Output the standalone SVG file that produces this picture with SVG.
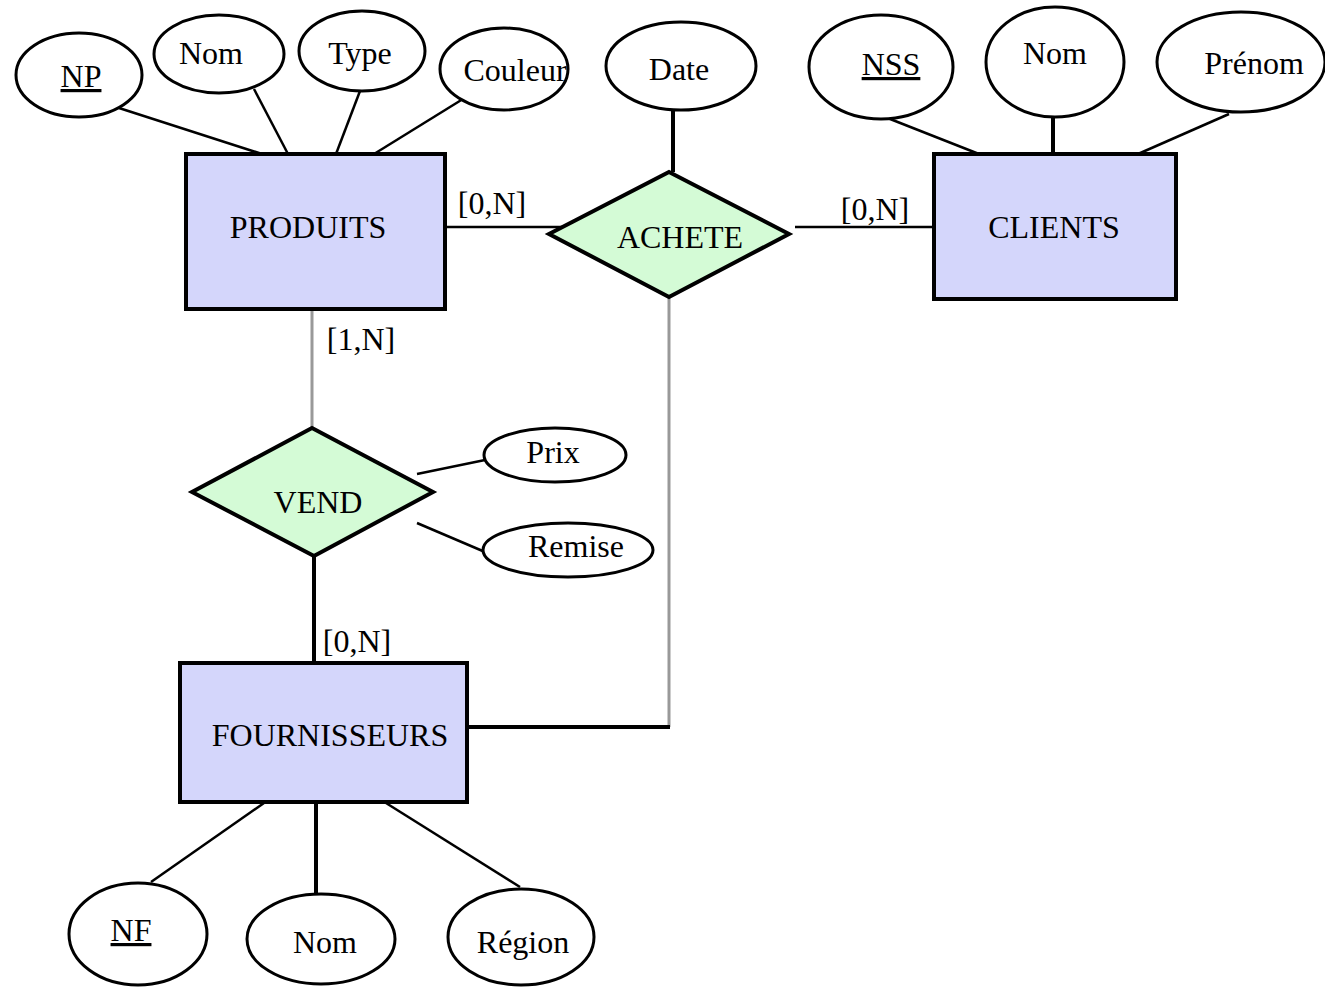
<svg xmlns="http://www.w3.org/2000/svg" width="1325" height="987" viewBox="0 0 1325 987">
  <style>
    text { font-family: "Liberation Serif", "Times New Roman", serif; font-size: 32px; fill: #000; text-anchor: middle; }
    .entity { fill: #d4d6fb; stroke: #000; stroke-width: 4; }
    .assoc { fill: #d4fbd6; stroke: #000; stroke-width: 4; stroke-linejoin: miter; }
    .attr { fill: #fff; stroke: #000; stroke-width: 3; }
    .thin { stroke: #000; stroke-width: 2.5; fill: none; }
    .thick { stroke: #000; stroke-width: 4; fill: none; }
    .grey { stroke: #999; stroke-width: 3; fill: none; }
    .key { text-decoration: underline; }
  </style>

  <!-- connectors -->
  <g id="connectors">
    <!-- PRODUITS attributes -->
    <line class="thin" x1="119" y1="108" x2="262" y2="154"/>
    <line class="thin" x1="254" y1="89" x2="288" y2="154"/>
    <line class="thin" x1="360" y1="91" x2="336" y2="154"/>
    <line class="thin" x1="471" y1="94" x2="374" y2="154"/>
    <!-- CLIENTS attributes -->
    <line class="thin" x1="885" y1="117" x2="979" y2="154"/>
    <line class="thick" x1="1053" y1="112" x2="1053" y2="154"/>
    <line class="thin" x1="1229" y1="114" x2="1138" y2="154"/>
    <!-- ACHETE -->
    <line class="thick" x1="673" y1="110" x2="673" y2="172"/>
    <line class="thin" x1="445" y1="227" x2="570" y2="227"/>
    <line class="thin" x1="795" y1="227" x2="933" y2="227"/>
    <polyline class="grey" points="669,297 669,727"/>
    <line class="thick" x1="467" y1="727" x2="670" y2="727"/>
    <!-- VEND -->
    <line class="grey" x1="312" y1="309" x2="312" y2="428"/>
    <line class="thick" x1="314" y1="556" x2="314" y2="663"/>
    <line class="thin" x1="417" y1="474" x2="485" y2="460"/>
    <line class="thin" x1="417" y1="523" x2="485" y2="552"/>
    <!-- FOURNISSEURS attributes -->
    <line class="thin" x1="264" y1="803" x2="151" y2="882"/>
    <line class="thick" x1="316" y1="803" x2="316" y2="897"/>
    <line class="thin" x1="386" y1="803" x2="520" y2="887"/>
    <!-- cardinalities -->
    <text x="492" y="214">[0,N]</text>
    <text x="875" y="220">[0,N]</text>
    <text x="361" y="350">[1,N]</text>
    <text x="357" y="652">[0,N]</text>
  </g>

  <!-- entities -->
  <g id="produits">
    <rect class="entity" x="186" y="154" width="259" height="155"/>
    <text x="308" y="238">PRODUITS</text>
  </g>
  <g id="clients">
    <rect class="entity" x="934" y="154" width="242" height="145"/>
    <text x="1054" y="238">CLIENTS</text>
  </g>
  <g id="fournisseurs">
    <rect class="entity" x="180" y="663" width="287" height="139"/>
    <text x="330" y="746">FOURNISSEURS</text>
  </g>

  <!-- associations -->
  <g id="achete">
    <polygon class="assoc" points="669,172 789,234 669,297 549,234"/>
    <text x="680" y="248">ACHETE</text>
  </g>
  <g id="vend">
    <polygon class="assoc" points="312,428 433,492 314,556 192,492"/>
    <text x="318" y="513">VEND</text>
  </g>

  <!-- attributes of PRODUITS -->
  <g id="attr-np">
    <ellipse class="attr" cx="79" cy="75" rx="63" ry="42"/>
    <text class="key" x="81" y="87">NP</text>
  </g>
  <g id="attr-nom-produit">
    <ellipse class="attr" cx="219" cy="54" rx="65" ry="39"/>
    <text x="211" y="64">Nom</text>
  </g>
  <g id="attr-type">
    <ellipse class="attr" cx="362" cy="51" rx="63" ry="40"/>
    <text x="360" y="64">Type</text>
  </g>
  <g id="attr-couleur">
    <ellipse class="attr" cx="504" cy="69" rx="64" ry="41"/>
    <text x="515" y="81">Couleur</text>
  </g>

  <!-- attribute of ACHETE -->
  <g id="attr-date">
    <ellipse class="attr" cx="681" cy="66" rx="75" ry="44"/>
    <text x="679" y="80">Date</text>
  </g>

  <!-- attributes of CLIENTS -->
  <g id="attr-nss">
    <ellipse class="attr" cx="881" cy="67" rx="72" ry="52"/>
    <text class="key" x="891" y="75">NSS</text>
  </g>
  <g id="attr-nom-client">
    <ellipse class="attr" cx="1055" cy="62" rx="69" ry="55"/>
    <text x="1055" y="64">Nom</text>
  </g>
  <g id="attr-prenom">
    <ellipse class="attr" cx="1241" cy="62" rx="84" ry="50"/>
    <text x="1254" y="74">Prénom</text>
  </g>

  <!-- attributes of VEND -->
  <g id="attr-prix">
    <ellipse class="attr" cx="555" cy="455" rx="71" ry="27"/>
    <text x="553" y="463">Prix</text>
  </g>
  <g id="attr-remise">
    <ellipse class="attr" cx="568" cy="550" rx="85" ry="27"/>
    <text x="576" y="557">Remise</text>
  </g>

  <!-- attributes of FOURNISSEURS -->
  <g id="attr-nf">
    <ellipse class="attr" cx="138" cy="934" rx="69" ry="51"/>
    <text class="key" x="131" y="941">NF</text>
  </g>
  <g id="attr-nom-fournisseur">
    <ellipse class="attr" cx="321" cy="939" rx="74" ry="45"/>
    <text x="325" y="953">Nom</text>
  </g>
  <g id="attr-region">
    <ellipse class="attr" cx="521" cy="937" rx="73" ry="48"/>
    <text x="523" y="953">Région</text>
  </g>
</svg>
